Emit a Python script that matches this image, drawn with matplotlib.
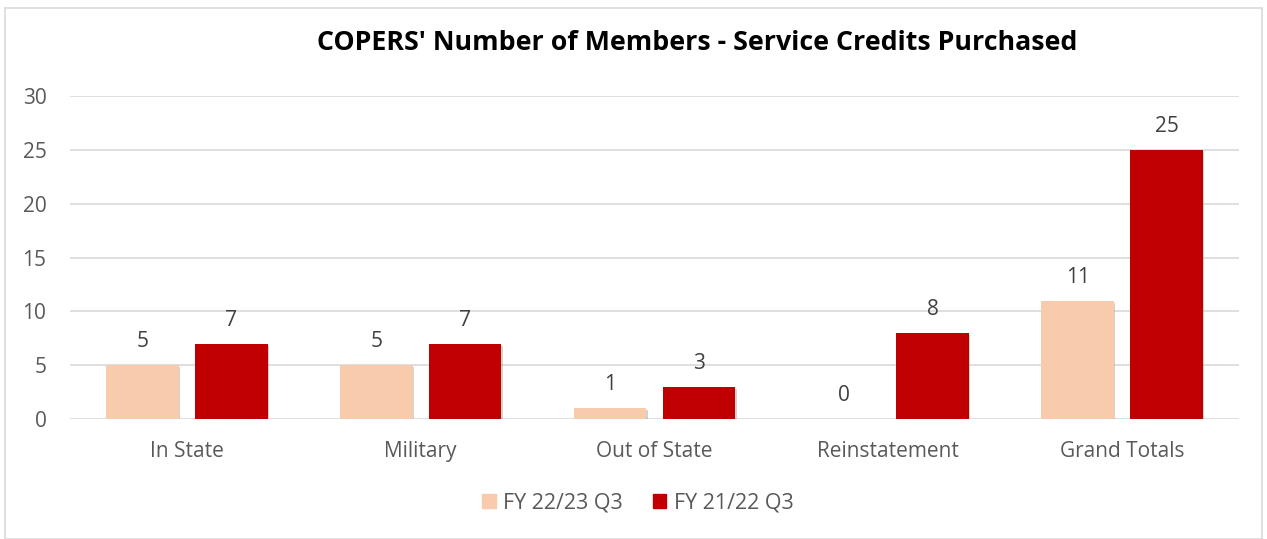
import numpy as np
import matplotlib
matplotlib.use("Agg")
import matplotlib.pyplot as plt
import matplotlib.patheffects as pe
from matplotlib.patches import Rectangle, Patch

categories = ["In State", "Military", "Out of State", "Reinstatement", "Grand Totals"]
fy2223 = [5, 5, 1, 0, 11]
fy2122 = [7, 7, 3, 8, 25]
series_names = ["FY 22/23 Q3", "FY 21/22 Q3"]
colors = ["#F8CBAD", "#C00000"]
yticks = [0, 5, 10, 15, 20, 25, 30]

plt.rcParams["font.family"] = ["Open Sans", "DejaVu Sans"]
txt = "#595959"

fig = plt.figure(figsize=(12.67, 5.39), dpi=100)
ax = fig.add_axes([70 / 1267, 1 - 419 / 539, 1169 / 1267, 323 / 539])

x = np.arange(len(categories))
w = 0.31
shadow = [pe.SimplePatchShadow(offset=(1, -1.5), shadow_rgbFace="#7f7f7f", alpha=0.35), pe.Normal()]
for vals, off, c in [(fy2223, -0.19, colors[0]), (fy2122, 0.19, colors[1])]:
    bars = ax.bar(x + off, vals, w, color=c, zorder=3)
    for b in bars:
        if b.get_height() > 0:
            b.set_path_effects(shadow)
    for xi, v in zip(x + off, vals):
        ax.text(xi, v + 1.2, str(v), ha="center", va="bottom", fontsize=15, color="#404040")

ax.set_xlim(-0.5, len(categories) - 0.5)
ax.set_ylim(0, 30)
ax.set_yticks(yticks)
ax.set_xticks(x)
ax.set_xticklabels(categories)
ax.tick_params(axis="both", length=0, labelsize=15, labelcolor=txt)
ax.tick_params(axis="y", pad=17)
ax.tick_params(axis="x", pad=16)
ax.grid(axis="y", color="#D9D9D9", linewidth=1.2, zorder=0)
for s in ax.spines.values():
    s.set_visible(False)

fig.text(697 / 1267, 1 - 43 / 539, "COPERS' Number of Members - Service Credits Purchased",
         ha="center", va="center", fontsize=19.3, fontweight="bold", color="black")

handles = [Patch(color=c, label=n) for c, n in zip(colors, series_names)]
leg = fig.legend(handles=handles, loc="center", bbox_to_anchor=(638 / 1267, 1 - 503 / 539), ncol=2,
                 frameon=False, fontsize=15.5, handlelength=0.62, handleheight=0.62,
                 columnspacing=1.4, handletextpad=0.35)
for t in leg.get_texts():
    t.set_color(txt)

fig.patches.append(Rectangle((5 / 1267, 0), 1 - 10 / 1267, 1 - 8 / 539, transform=fig.transFigure,
                             fill=False, edgecolor="#D9D9D9", linewidth=1.2))

fig.savefig("out.png", dpi=100)
